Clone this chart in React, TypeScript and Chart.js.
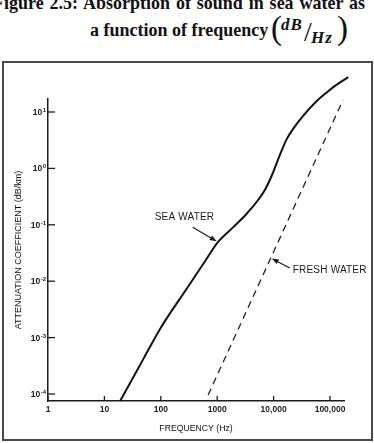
import { useEffect, useRef } from 'react';
import { Chart, registerables } from 'chart.js';

Chart.register(...registerables);

// Attenuation of sound in sea water and fresh water versus frequency (log-log)
const seaFreq = [19, 30, 50, 100, 300, 600, 1020, 1930, 3330, 5350, 7040, 9250, 11030, 12980, 17060, 22340, 33620, 54200, 87300, 131500, 211000];
const seaAtten = [7.52e-5, 1.72e-4, 4.33e-4, 1.5e-3, 7.81e-3, 0.0221, 0.049, 0.091, 0.157, 0.278, 0.419, 0.741, 1.155, 1.756, 3.3, 5.07, 8.63, 14.6, 22.2, 30.5, 41.5];
const freshFreq = [690, 170000];
const freshAtten = [9.6e-5, 16.3];

const xTickValues = [1, 10, 100, 1000, 10000, 100000];
const xTickLabels = ['1', '10', '100', '1000', '10,000', '100,000'];
const yTickValues = [1e-4, 1e-3, 1e-2, 1e-1, 1, 10];
const yTickExponents = ['-4', '-3', '-2', '-1', '0', '1'];

const xMin = 1;
const xMax = 177000;
const yMin = 7.52e-5;
const yMax = 17;

// labels pointing at each curve: index / frequency on the curve where the arrow lands
const seaLabel = { text: 'SEA WATER', pointIndex: 6 };
const freshLabel = { text: 'FRESH WATER', freq: 8900 };

const INK = '#1c1c1c';
const LABEL_FONT = '"Liberation Sans", Arial, sans-serif';

function arrow(ctx: CanvasRenderingContext2D, x0: number, y0: number, x1: number, y1: number) {
  const ang = Math.atan2(y1 - y0, x1 - x0);
  const head = 7;
  const half = 2.6;
  ctx.beginPath();
  ctx.moveTo(x0, y0);
  ctx.lineTo(x1 - Math.cos(ang) * head * 0.6, y1 - Math.sin(ang) * head * 0.6);
  ctx.stroke();
  ctx.beginPath();
  ctx.moveTo(x1, y1);
  ctx.lineTo(x1 - Math.cos(ang) * head - Math.sin(ang) * half, y1 - Math.sin(ang) * head + Math.cos(ang) * half);
  ctx.lineTo(x1 - Math.cos(ang) * head + Math.sin(ang) * half, y1 - Math.sin(ang) * head - Math.cos(ang) * half);
  ctx.closePath();
  ctx.fill();
}

const decorPlugin = {
  id: 'decor',
  afterDatasetsDraw(chart: any) {
    const { ctx, chartArea, scales } = chart;
    const xs = scales.x;
    const ys = scales.y;
    ctx.save();
    ctx.strokeStyle = INK;
    ctx.fillStyle = INK;
    ctx.lineWidth = 1.3;
    // inward tick marks
    yTickValues.forEach((v) => {
      const py = ys.getPixelForValue(v);
      ctx.beginPath();
      ctx.moveTo(chartArea.left, py);
      ctx.lineTo(chartArea.left + 7, py);
      ctx.stroke();
    });
    xTickValues.forEach((v) => {
      const px = xs.getPixelForValue(v);
      ctx.beginPath();
      ctx.moveTo(px, chartArea.bottom);
      ctx.lineTo(px, chartArea.bottom - 5);
      ctx.stroke();
    });

    // y tick labels as 10 with a raised exponent
    ctx.textBaseline = 'alphabetic';
    ctx.textAlign = 'right';
    yTickValues.forEach((v, i) => {
      const py = ys.getPixelForValue(v);
      const right = chartArea.left - 2;
      ctx.font = `bold 6px ${LABEL_FONT}`;
      const expW = ctx.measureText(yTickExponents[i]).width;
      ctx.fillText(yTickExponents[i], right, py);
      ctx.font = `bold 8.5px ${LABEL_FONT}`;
      ctx.fillText('10', right - expW - 0.5, py + 3);
    });

    ctx.font = `10px ${LABEL_FONT}`;
    (ctx as any).letterSpacing = '0.2px';
    ctx.textBaseline = 'middle';
    ctx.textAlign = 'left';
    ctx.lineWidth = 1.2;

    // sea water label
    const seaPt = chart.getDatasetMeta(0).data[seaLabel.pointIndex];
    const sx = seaPt.x;
    const sy = seaPt.y;
    arrow(ctx, sx - 25, sy - 15, sx - 1, sy - 1);
    ctx.fillText(seaLabel.text, sx - 63, sy - 25);

    // fresh water label
    const fm = chart.getDatasetMeta(1).data;
    const fx = xs.getPixelForValue(freshLabel.freq);
    const t = (fx - fm[0].x) / (fm[1].x - fm[0].x);
    const fy = fm[0].y + t * (fm[1].y - fm[0].y);
    arrow(ctx, fx + 19, fy + 10, fx + 1, fy + 0.5);
    ctx.fillText(freshLabel.text, fx + 22, fy + 12);
    ctx.restore();
  },
};

function AttenuationChart() {
  const ref = useRef<HTMLCanvasElement>(null);
  useEffect(() => {
    if (!ref.current) return;
    const chart = new Chart(ref.current, {
      type: 'line',
      data: {
        datasets: [
          {
            label: 'SEA WATER',
            data: seaFreq.map((f, i) => ({ x: f, y: seaAtten[i] })),
            borderColor: '#111',
            borderWidth: 2,
            pointRadius: 0,
            cubicInterpolationMode: 'monotone',
            fill: false,
            clip: false as any,
          },
          {
            label: 'FRESH WATER',
            data: freshFreq.map((f, i) => ({ x: f, y: freshAtten[i] })),
            borderColor: '#222',
            borderWidth: 1.3,
            borderDash: [7, 5],
            pointRadius: 0,
            tension: 0,
            fill: false,
            clip: false as any,
          },
        ],
      },
      options: {
        responsive: false,
        animation: false,
        devicePixelRatio: 1,
        layout: { padding: { left: 8, top: 99, right: 30, bottom: 0 } },
        plugins: { legend: { display: false }, tooltip: { enabled: false } },
        scales: {
          x: {
            type: 'logarithmic',
            min: xMin,
            max: xMax,
            afterBuildTicks: (scale: any) => {
              scale.ticks = xTickValues.map((v) => ({ value: v }));
            },
            afterFit: (scale: any) => {
              scale.height = 42;
            },
            grid: { display: false, drawTicks: false },
            border: { display: true, color: INK, width: 1.5 },
            ticks: {
              autoSkip: false,
              maxRotation: 0,
              padding: 4,
              color: '#1a1a1a',
              font: { family: LABEL_FONT, size: 8.5, weight: 'bold' },
              callback: (_v: any, i: number) => xTickLabels[i],
            },
            title: {
              display: true,
              text: 'FREQUENCY (Hz)',
              color: '#111',
              font: { family: LABEL_FONT, size: 8.7 },
              padding: { top: 0, bottom: 9 },
            },
          },
          y: {
            type: 'logarithmic',
            min: yMin,
            max: yMax,
            afterBuildTicks: (scale: any) => {
              scale.ticks = yTickValues.map((v) => ({ value: v }));
            },
            afterFit: (scale: any) => {
              scale.width = 40;
            },
            grid: { display: false, drawTicks: false },
            border: { display: true, color: INK, width: 1.5 },
            ticks: { display: false },
            title: {
              display: true,
              text: 'ATTENUATION COEFFICIENT (dB/km)',
              color: '#111',
              font: { family: LABEL_FONT, size: 9 },
              padding: { top: 5, bottom: 0 },
            },
          },
        },
      },
      plugins: [decorPlugin],
    });
    return () => chart.destroy();
  }, []);
  return (
    <canvas
      ref={ref}
      width={374}
      height={443}
      style={{ position: 'fixed', left: 0, top: 0, width: 374, height: 443 }}
    />
  );
}

const serif = '"Liberation Serif", "Times New Roman", serif';

export default function App() {
  return (
    <div style={{ position: 'fixed', left: 0, top: 0, width: 374, height: 443, overflow: 'hidden', background: '#fff' }}>
      <div
        style={{
          position: 'absolute', left: -7, top: -6, fontFamily: serif, fontWeight: 'bold',
          fontSize: 18, lineHeight: '18px', whiteSpace: 'nowrap', wordSpacing: 1.4, color: '#111',
        }}
      >
        Figure 2.5: Absorption of sound in sea water as
      </div>
      <div
        style={{
          position: 'absolute', left: 90, top: 21, fontFamily: serif, fontWeight: 'bold',
          fontSize: 18, lineHeight: '18px', whiteSpace: 'nowrap', color: '#111',
        }}
      >
        a function of frequency
      </div>
      <span style={{ position: 'absolute', left: 271, top: 12, fontFamily: serif, fontSize: 33, lineHeight: '33px', color: '#111' }}>(</span>
      <span style={{ position: 'absolute', left: 281, top: 16, fontFamily: serif, fontWeight: 'bold', fontStyle: 'italic', fontSize: 17, lineHeight: '17px', letterSpacing: 1, color: '#111' }}>dB</span>
      <span style={{ position: 'absolute', left: 304, top: 18, fontFamily: serif, fontSize: 28, lineHeight: '28px', color: '#111' }}>/</span>
      <span style={{ position: 'absolute', left: 311, top: 29, fontFamily: serif, fontWeight: 'bold', fontStyle: 'italic', fontSize: 17, lineHeight: '17px', letterSpacing: 1, color: '#111' }}>Hz</span>
      <span style={{ position: 'absolute', left: 337, top: 12, fontFamily: serif, fontSize: 33, lineHeight: '33px', color: '#111' }}>)</span>
      <div
        style={{
          position: 'absolute', left: 2, top: 61, width: 371, height: 380,
          border: '2px solid #4a4a4a', boxSizing: 'border-box',
        }}
      />
      <AttenuationChart />
    </div>
  );
}
